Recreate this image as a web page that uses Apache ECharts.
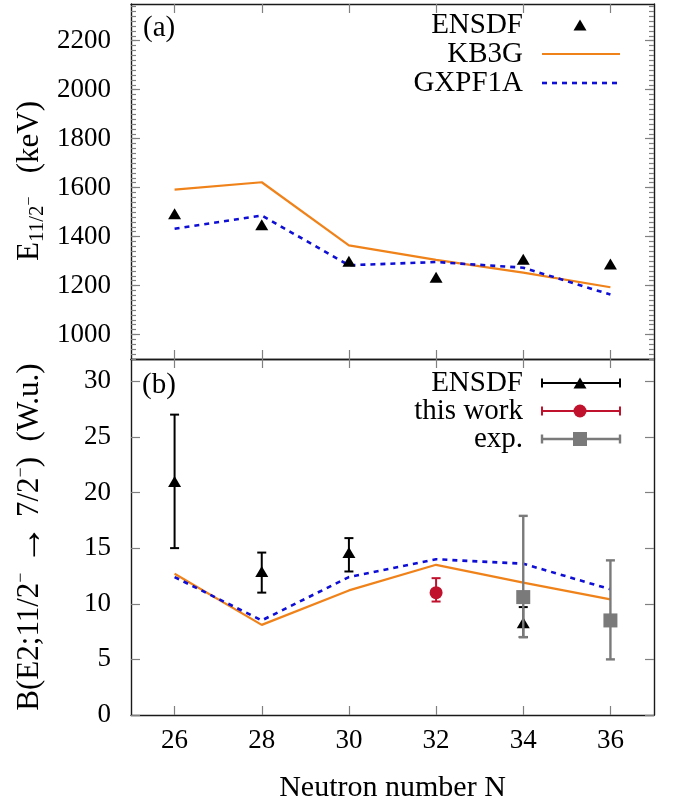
<!DOCTYPE html>
<html>
<head>
<meta charset="utf-8">
<script src="https://cdn.jsdelivr.net/npm/echarts@6/dist/echarts.min.js"></script>
<style>
html, body { margin: 0; padding: 0; background: #fff; }
#chart { width: 673px; height: 801px; }
</style>
</head>
<body>
<div id="chart"></div>
<script>
var neutron = [26, 28, 30, 32, 34, 36];
var x_ticks = [26, 28, 30, 32, 34, 36];

// (a) E(11/2-) in keV
var e_ensdf = [1493, 1448, 1299, 1234, 1307, 1288];
var e_kb3g = [1592, 1622, 1364, 1305, 1253, 1193];
var e_gxpf1a = [1432, 1486, 1283, 1296, 1273, 1163];
var e_ticks = [1000, 1200, 1400, 1600, 1800, 2000, 2200];

// (b) B(E2) in W.u.
var b_kb3g = [12.7, 8.1, 11.2, 13.5, 11.9, 10.4];
var b_gxpf1a = [12.4, 8.5, 12.4, 14.0, 13.6, 11.3];
var b_ticks = [0, 5, 10, 15, 20, 25, 30];
// [N, value, low, high]
var b_ensdf = [[26, 21.0, 15.0, 27.0], [28, 12.9, 11.0, 14.6], [30, 14.6, 12.9, 15.9], [34, 8.3, 7.0, 9.7]];
var b_thiswork = [[32, 11.0, 10.2, 12.3]];
var b_exp = [[34, 10.6, 7.0, 17.9], [36, 8.5, 5.0, 13.9]];

var FONT = "'Liberation Serif', serif";
var ORANGE = '#f0821a';
var BLUE = '#0e0ed6';
var RED = '#c0122c';
var GREY = '#7a7a7a';
var TICK = '#808080';

var e_minor = [];
for (var v = 900; v < 2350; v += 20) e_minor.push(v);

function pairs(ys) {
    return neutron.map(function (n, i) { return [n, ys[i]]; });
}

function errorBars(color, width) {
    return function (params, api) {
        var x = api.value(0);
        var lo = api.coord([x, api.value(2)]);
        var hi = api.coord([x, api.value(3)]);
        var cap = 4.5;
        var style = { stroke: color, lineWidth: width };
        return {
            type: 'group',
            children: [
                { type: 'line', shape: { x1: lo[0], y1: lo[1], x2: hi[0], y2: hi[1] }, style: style },
                { type: 'line', shape: { x1: lo[0] - cap, y1: lo[1], x2: lo[0] + cap, y2: lo[1] }, style: style },
                { type: 'line', shape: { x1: hi[0] - cap, y1: hi[1], x2: hi[0] + cap, y2: hi[1] }, style: style }
            ]
        };
    };
}

function plain(val) { return String(val); }

function xAx(grid, pos, labels) {
    return {
        type: 'value', gridIndex: grid, position: pos, min: 25, max: 37,
        axisLine: { show: true, onZero: false, lineStyle: { color: '#1a1a1a', width: 1.4 } },
        axisTick: { show: true, inside: true, length: 9, customValues: x_ticks, lineStyle: { color: TICK, width: 1.2 } },
        axisLabel: { show: labels, customValues: x_ticks, formatter: plain, margin: 12, fontFamily: FONT, fontSize: 27, color: '#000' },
        splitLine: { show: false }
    };
}

function yAx(grid, pos, min, max, ticks, len, labels, line) {
    return {
        type: 'value', gridIndex: grid, position: pos, min: min, max: max,
        axisLine: { show: line, onZero: false, lineStyle: { color: '#1a1a1a', width: 1.4 } },
        axisTick: { show: true, inside: true, length: len, customValues: ticks, lineStyle: { color: TICK, width: 1.2 } },
        axisLabel: { show: labels, customValues: ticks, formatter: plain, margin: 20, fontFamily: FONT, fontSize: 27, color: '#000' },
        splitLine: { show: false }
    };
}

var xb = xAx(1, 'bottom', true);
xb.name = 'Neutron number N';
xb.nameLocation = 'middle';
xb.nameGap = 58;
xb.nameTextStyle = { fontFamily: FONT, fontSize: 30, color: '#000' };

var txt = function (t, x, y, extra) {
    var s = { text: t, x: x, y: y, fontFamily: FONT, fontSize: 29, fill: '#000', align: 'right', verticalAlign: 'middle' };
    for (var k in extra) s[k] = extra[k];
    return { type: 'text', style: s, z: 10 };
};
var seg = function (x1, y1, x2, y2, color, w, dash) {
    return { type: 'line', shape: { x1: x1, y1: y1, x2: x2, y2: y2 }, style: { stroke: color, lineWidth: w, lineDash: dash || null }, z: 10 };
};
var tri = function (cx, cy, color) {
    return { type: 'polygon', shape: { points: [[cx - 6.5, cy + 5.5], [cx + 6.5, cy + 5.5], [cx, cy - 5.5]] }, style: { fill: color }, z: 11 };
};
var barKey = function (y, color, w) {
    return [seg(542, y, 620, y, color, w), seg(542, y - 4.5, 542, y + 4.5, color, w), seg(620, y - 4.5, 620, y + 4.5, color, w)];
};

var graphics = [
    txt('(a)', 143, 28, { align: 'left' }),
    txt('(b)', 142, 385, { align: 'left' }),
    txt('ENSDF', 523, 25), tri(580, 25, '#000'),
    txt('KB3G', 523, 54), seg(542, 54, 620, 54, ORANGE, 2.2),
    txt('GXPF1A', 523, 83), seg(542, 83, 620, 83, BLUE, 2.6, [5, 5]),
    txt('ENSDF', 523, 383),
    txt('this work', 523, 411),
    txt('exp.', 523, 439)
].concat(barKey(383, '#000', 2)).concat([tri(580, 383, '#000')])
 .concat(barKey(411, RED, 2)).concat([{ type: 'circle', shape: { cx: 580, cy: 411, r: 6.5 }, style: { fill: RED }, z: 11 }])
 .concat(barKey(439, GREY, 2.4)).concat([{ type: 'rect', shape: { x: 573, y: 432, width: 14, height: 14 }, style: { fill: GREY }, z: 11 }]);

// axis titles
graphics.push({
    type: 'text', x: 30, y: 181, rotation: Math.PI / 2, z: 10,
    style: {
        text: '{m|E}{s|11/2}{p|−}{m|   (keV)}', align: 'center', verticalAlign: 'middle',
        rich: {
            m: { fontFamily: FONT, fontSize: 31, lineHeight: 36, fill: '#000' },
            s: { fontFamily: FONT, fontSize: 21, lineHeight: 20, verticalAlign: 'bottom', fill: '#000' },
            p: { fontFamily: FONT, fontSize: 16, lineHeight: 16, verticalAlign: 'middle', fill: '#000' }
        }
    }
});
graphics.push({
    type: 'text', x: 30, y: 537, rotation: Math.PI / 2, z: 10,
    style: {
        text: '{m|B(E2;11/2}{p|−}{m| }{a|→}{m| 7/2}{p|−}{m|)  (W.u.)}', align: 'center', verticalAlign: 'middle',
        rich: {
            m: { fontFamily: FONT, fontSize: 31, lineHeight: 36, fill: '#000' },
            a: { fontFamily: FONT, fontSize: 40, lineHeight: 36, fill: '#000' },
            p: { fontFamily: FONT, fontSize: 18, lineHeight: 18, verticalAlign: 'top', fill: '#000' }
        }
    }
});

var myChart = echarts.init(document.getElementById('chart'));
var option = {
    animation: false,
    backgroundColor: '#fff',
    grid: [
        { left: 131, right: 19, top: 4, height: 355, outerBoundsMode: 'none' },
        { left: 131, right: 19, top: 359, height: 356, outerBoundsMode: 'none' }
    ],
    xAxis: [xAx(0, 'bottom', false), xAx(0, 'top', false), xb, xAx(1, 'top', false)],
    yAxis: [
        yAx(0, 'left', 900, 2350, e_ticks, 9, true, true),
        yAx(0, 'right', 900, 2350, e_ticks, 9, false, true),
        yAx(0, 'left', 900, 2350, e_minor, 5, false, false),
        yAx(0, 'right', 900, 2350, e_minor, 5, false, false),
        yAx(1, 'left', 0, 32, b_ticks, 9, true, true),
        yAx(1, 'right', 0, 32, b_ticks, 9, false, true)
    ],
    graphic: graphics,
    series: [
        { name: 'KB3G', type: 'line', xAxisIndex: 0, yAxisIndex: 0, data: pairs(e_kb3g), symbol: 'none',
          lineStyle: { color: ORANGE, width: 2.2 }, z: 2 },
        { name: 'GXPF1A', type: 'line', xAxisIndex: 0, yAxisIndex: 0, data: pairs(e_gxpf1a), symbol: 'none',
          lineStyle: { color: BLUE, width: 2.6, type: [5, 5] }, z: 3 },
        { name: 'ENSDF', type: 'scatter', xAxisIndex: 0, yAxisIndex: 0, data: pairs(e_ensdf), symbol: 'triangle',
          symbolSize: [13, 11], itemStyle: { color: '#000', opacity: 1 }, z: 4 },

        { name: 'KB3G b', type: 'line', xAxisIndex: 2, yAxisIndex: 4, data: pairs(b_kb3g), symbol: 'none',
          lineStyle: { color: ORANGE, width: 2.2 }, z: 2 },
        { name: 'GXPF1A b', type: 'line', xAxisIndex: 2, yAxisIndex: 4, data: pairs(b_gxpf1a), symbol: 'none',
          lineStyle: { color: BLUE, width: 2.6, type: [5, 5] }, z: 3 },
        { type: 'custom', xAxisIndex: 2, yAxisIndex: 4, data: b_ensdf, renderItem: errorBars('#000', 2),
          encode: { x: 0, y: [1, 2, 3] }, z: 4 },
        { type: 'scatter', xAxisIndex: 2, yAxisIndex: 4, data: b_ensdf.map(function (d) { return [d[0], d[1]]; }),
          symbol: 'triangle', symbolSize: [13, 11], itemStyle: { color: '#000', opacity: 1 }, z: 5 },
        { type: 'custom', xAxisIndex: 2, yAxisIndex: 4, data: b_thiswork, renderItem: errorBars(RED, 2),
          encode: { x: 0, y: [1, 2, 3] }, z: 6 },
        { type: 'scatter', xAxisIndex: 2, yAxisIndex: 4, data: b_thiswork.map(function (d) { return [d[0], d[1]]; }),
          symbol: 'circle', symbolSize: 13, itemStyle: { color: RED, opacity: 1 }, z: 7 },
        { type: 'custom', xAxisIndex: 2, yAxisIndex: 4, data: b_exp, renderItem: errorBars(GREY, 2.4),
          encode: { x: 0, y: [1, 2, 3] }, z: 8 },
        { type: 'scatter', xAxisIndex: 2, yAxisIndex: 4, data: b_exp.map(function (d) { return [d[0], d[1]]; }),
          symbol: 'rect', symbolSize: 14, itemStyle: { color: GREY, opacity: 1 }, z: 9 }
    ]
};
myChart.setOption(option, true);
</script>
</body>
</html>
